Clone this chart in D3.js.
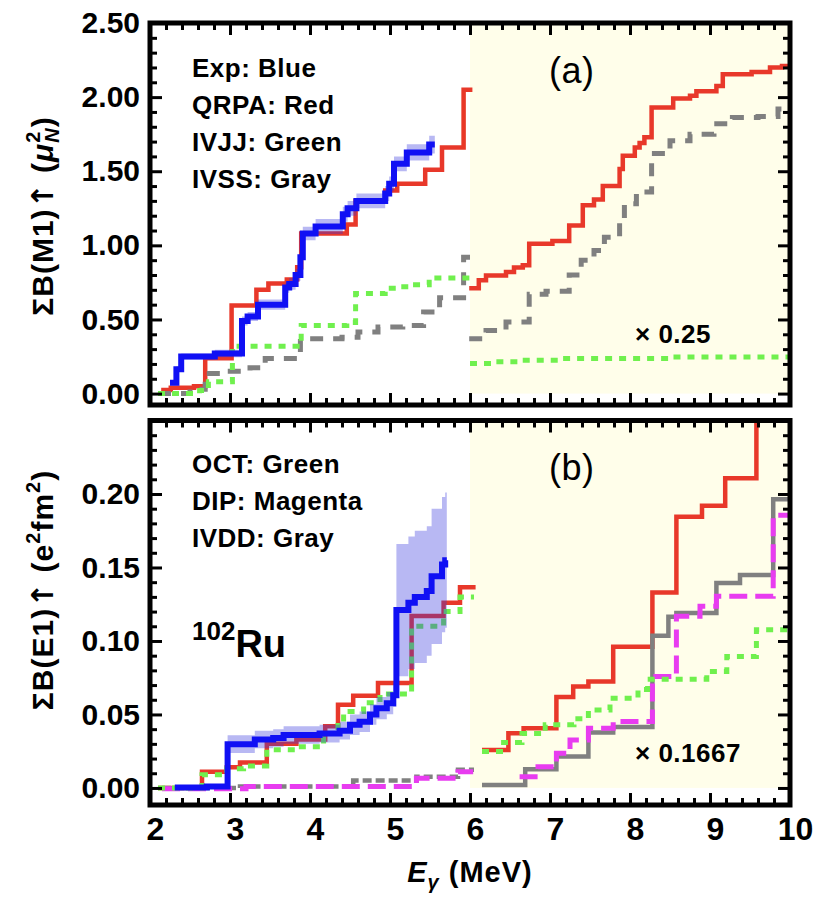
<!DOCTYPE html>
<html>
<head>
<meta charset="utf-8">
<script src="https://cdn.jsdelivr.net/npm/d3@7"></script>
<style>
body { margin: 0; background: #fff; }
text { font-family: "Liberation Sans", Arial, sans-serif; white-space: pre; }
</style>
</head>
<body>
<div id="chart"></div>
<script>
// ---- tick values / labels ----
var xMajor = [2, 3, 4, 5, 6, 7, 8, 9, 10];
var xLabels = ["2", "3", "4", "5", "6", "7", "8", "9", "10"];
var yMajorA = [0, 0.5, 1, 1.5, 2, 2.5];
var yLabelsA = ["0.00", "0.50", "1.00", "1.50", "2.00", "2.50"];
var yMajorB = [0, 0.05, 0.1, 0.15, 0.2];
var yLabelsB = ["0.00", "0.05", "0.10", "0.15", "0.20"];

// ---- panel (a): M1 ----
var expE_a = [2.25, 2.33, 2.39, 2.81, 3.15, 3.22, 3.35, 3.69, 3.74, 3.82, 3.88, 3.91, 4.07, 4.41, 4.47, 4.58, 4.94, 4.99, 5.05, 5.21, 5.49, 5.56];
var expV_a = [0.073, 0.165, 0.25, 0.27, 0.49, 0.52, 0.60, 0.715, 0.74, 0.80, 0.92, 1.08, 1.127, 1.21, 1.25, 1.30, 1.35, 1.415, 1.55, 1.627, 1.68, 1.68];
var expErr_a = [0.015, 0.02, 0.02, 0.025, 0.03, 0.03, 0.035, 0.035, 0.04, 0.04, 0.045, 0.045, 0.05, 0.05, 0.05, 0.05, 0.05, 0.05, 0.05, 0.055, 0.06, 0.06];

var qrpaE_a1 = [2.14, 2.26, 2.55, 2.69, 3.02, 3.33, 3.48, 3.71, 3.84, 3.89, 4.46, 4.57, 4.94, 5.09, 5.44, 5.65, 5.92, 6.03];
var qrpaV_a1 = [0.024, 0.04, 0.05, 0.238, 0.595, 0.70, 0.742, 0.77, 0.853, 1.08, 1.14, 1.30, 1.37, 1.415, 1.51, 1.66, 2.05, 2.05];
var qrpaE_a2 = [5.99, 6.11, 6.2, 6.45, 6.55, 6.66, 6.74, 7.03, 7.24, 7.41, 7.55, 7.66, 7.87, 7.91, 8.06, 8.12, 8.18, 8.27, 8.54, 8.75, 8.83, 9.08, 9.16, 9.52, 9.75, 9.9, 10];
var qrpaV_a2 = [0.71, 0.764, 0.797, 0.82, 0.85, 0.865, 1.01, 1.03, 1.134, 1.27, 1.31, 1.40, 1.515, 1.605, 1.66, 1.69, 1.73, 1.93, 1.99, 2.01, 2.04, 2.075, 2.155, 2.17, 2.20, 2.21, 2.21];

var ivssE_a1 = [2.1, 2.5, 2.69, 2.9, 3.25, 3.44, 3.88, 4.4, 4.6, 4.85, 5.16, 5.42, 5.62, 5.92, 6.0];
var ivssV_a1 = [0.0, 0.03, 0.136, 0.15, 0.174, 0.237, 0.37, 0.38, 0.416, 0.45, 0.46, 0.55, 0.647, 0.92, 0.92];
var ivssE_a2 = [5.99, 6.2, 6.45, 6.74, 6.95, 7.24, 7.39, 7.55, 7.68, 7.87, 7.93, 8.08, 8.27, 8.5, 8.75, 9.05, 9.28, 9.6, 9.85, 10];
var ivssV_a2 = [0.37, 0.425, 0.483, 0.67, 0.69, 0.80, 0.90, 0.965, 1.055, 1.156, 1.28, 1.36, 1.62, 1.706, 1.75, 1.82, 1.863, 1.87, 1.92, 1.92];

var ivjjE_a1 = [2.1, 2.62, 2.73, 3.03, 3.89, 4.46, 4.57, 4.94, 5.1, 5.25, 5.49, 6.0];
var ivjjV_a1 = [0.0, 0.02, 0.08, 0.32, 0.46, 0.48, 0.675, 0.71, 0.72, 0.735, 0.78, 0.78];
var ivjjE_a2 = [6.0, 6.3, 6.6, 7.1, 8.5, 10];
var ivjjV_a2 = [0.203, 0.214, 0.225, 0.236, 0.247, 0.25];

// ---- panel (b): E1 ----
var expE_b = [2.31, 2.71, 2.97, 3.31, 3.54, 3.67, 4.12, 4.37, 4.5, 4.62, 4.75, 4.83, 4.96, 5.04, 5.08, 5.23, 5.31, 5.46, 5.52, 5.65, 5.69, 5.71];
var expV_b = [0.0003, 0.001, 0.0298, 0.033, 0.034, 0.036, 0.037, 0.039, 0.043, 0.045, 0.050, 0.0543, 0.0577, 0.063, 0.121, 0.126, 0.13, 0.134, 0.144, 0.152, 0.155, 0.155];
var expErr_b = [0.001, 0.001, 0.006, 0.006, 0.006, 0.006, 0.006, 0.006, 0.007, 0.007, 0.007, 0.0075, 0.0075, 0.008, 0.045, 0.045, 0.045, 0.044, 0.046, 0.046, 0.046, 0.046];

var qrpaE_b1 = [2.1, 2.65, 2.96, 3.125, 3.46, 3.83, 4.19, 4.35, 4.54, 4.85, 5.27, 5.67, 5.875, 6.07];
var qrpaV_b1 = [0.0, 0.011, 0.014, 0.0173, 0.030, 0.033, 0.042, 0.0566, 0.0627, 0.0714, 0.117, 0.126, 0.1366, 0.1366];
var qrpaE_b2 = [6.15, 6.48, 6.67, 7.08, 7.29, 7.48, 7.79, 8.28, 8.58, 8.9, 9.19, 9.58, 10];
var qrpaV_b2 = [0.0259, 0.0373, 0.0407, 0.0618, 0.069, 0.0725, 0.096, 0.133, 0.1846, 0.192, 0.2107, 0.26, 0.26];

var ivddE_b1 = [2.15, 3.125, 4.54, 5.33, 5.85, 6.05];
var ivddV_b1 = [0.0, 0.001, 0.005, 0.0077, 0.0123, 0.0123];
var ivddE_b2 = [6.15, 6.69, 7.08, 7.48, 7.79, 8.28, 8.48, 8.58, 9.08, 9.375, 9.79, 10];
var ivddV_b2 = [0.002, 0.0128, 0.0214, 0.0377, 0.0414, 0.1036, 0.1164, 0.119, 0.1395, 0.1448, 0.1964, 0.1964];

var dipE_b1 = [2.15, 3.2, 5.33, 5.85, 6.04];
var dipV_b1 = [-0.0005, 0.001, 0.0066, 0.011, 0.011];
var dipE_b2 = [6.62, 6.85, 7.08, 7.25, 7.48, 7.79, 8.28, 8.58, 8.875, 9.08, 9.79, 10];
var dipV_b2 = [0.0077, 0.0145, 0.0236, 0.0327, 0.0407, 0.0452, 0.0759, 0.1168, 0.1236, 0.1304, 0.1855, 0.1855];

var octE_b1 = [2.1, 2.65, 2.96, 3.17, 3.46, 3.83, 4.17, 4.35, 4.42, 4.67, 4.875, 5.27, 5.67, 5.875, 6.05];
var octV_b1 = [0.0, 0.0089, 0.013, 0.015, 0.026, 0.028, 0.037, 0.045, 0.052, 0.058, 0.064, 0.110, 0.120, 0.130, 0.130];
var octE_b2 = [6.15, 6.42, 6.65, 6.94, 7.3, 7.48, 7.75, 8.1, 8.22, 8.96, 9.21, 9.58, 10];
var octV_b2 = [0.0248, 0.0309, 0.037, 0.043, 0.047, 0.053, 0.0611, 0.067, 0.074, 0.0793, 0.0895, 0.1077, 0.1077];

var BLUE = "#1010f4", RED = "#e8382a", GREEN = "#70f04e", GRAY = "#808080", MAGENTA = "#e83cf0";

var svg = d3.select("#chart").append("svg").attr("width", 820).attr("height", 914);

var x = d3.scaleLinear().domain([2, 10]).range([150, 790]);
var yA = d3.scaleLinear().domain([-0.077, 2.5]).range([405, 23]);
var yB = d3.scaleLinear().domain([-0.0116, 0.25]).range([805, 420.5]);

function zip(E, V, R) {
	return E.map(function(e, i) { return [e, V[i], R ? R[i] : 0]; });
}

function panel(id, y, top, bottom) {
	svg.append("clipPath").attr("id", id)
		.append("rect").attr("x", 150).attr("y", top).attr("width", 640).attr("height", bottom - top);
	var g = svg.append("g").attr("clip-path", "url(#" + id + ")");
	var yTop = y.domain()[1];
	// shaded region above 6 MeV
	g.append("rect")
		.attr("x", x(6)).attr("width", x(10) - x(6))
		.attr("y", y(yTop)).attr("height", y(0) - y(yTop))
		.attr("fill", "#fffeea");
	return g;
}

function step(g, y, E, V, color, w, dash) {
	var line = d3.line()
		.x(function(d) { return x(d[0]); })
		.y(function(d) { return y(d[1]); })
		.curve(d3.curveStepAfter);
	g.append("path").datum(zip(E, V))
		.attr("d", line)
		.attr("fill", "none")
		.attr("stroke", color)
		.attr("stroke-width", w)
		.attr("stroke-dasharray", dash || null);
}

function band(g, y, E, V, R) {
	var area = d3.area()
		.x(function(d) { return x(d[0]); })
		.y0(function(d) { return y(d[1] - d[2]); })
		.y1(function(d) { return y(d[1] + d[2]); })
		.curve(d3.curveStepAfter);
	g.append("path").datum(zip(E, V, R))
		.attr("d", area)
		.attr("fill", "#3333dd")
		.attr("fill-opacity", 0.35);
}

function frame(y, top, bottom, yMajor, yLabels, yMinorStep) {
	var axes = svg.append("g");
	var xMinor = d3.range(2, 10.001, 0.2).filter(function(v) { return Math.abs(v - Math.round(v)) > 0.01; });
	var yMax = y.domain()[1];
	var yMinor = d3.range(0, yMax + yMinorStep / 2, yMinorStep).filter(function(v) {
		return yMajor.every(function(m) { return Math.abs(m - v) > yMinorStep / 10; });
	});

	[[d3.axisBottom, bottom], [d3.axisTop, top]].forEach(function(a) {
		axes.append("g").attr("transform", "translate(0," + a[1] + ")")
			.call(a[0](x).tickValues(xMajor).tickSize(-12).tickFormat(""));
		axes.append("g").attr("transform", "translate(0," + a[1] + ")")
			.call(a[0](x).tickValues(xMinor).tickSize(-7).tickFormat(""));
	});
	[[d3.axisLeft, 150], [d3.axisRight, 790]].forEach(function(a) {
		axes.append("g").attr("transform", "translate(" + a[1] + ",0)")
			.call(a[0](y).tickValues(yMajor).tickSize(-12).tickFormat(""));
		axes.append("g").attr("transform", "translate(" + a[1] + ",0)")
			.call(a[0](y).tickValues(yMinor).tickSize(-7).tickFormat(""));
	});
	axes.selectAll(".domain").remove();
	axes.selectAll(".tick line").attr("stroke", "#000").attr("stroke-width", 3);

	// y tick labels
	var lab = svg.append("g").attr("transform", "translate(150,0)")
		.call(d3.axisLeft(y).tickValues(yMajor).tickSize(0).tickPadding(10)
			.tickFormat(function(d, i) { return yLabels[i]; }));
	lab.select(".domain").remove();
	lab.selectAll("text")
		.attr("font-size", 30).attr("font-weight", "bold")
		.attr("font-family", "Liberation Sans, Arial, sans-serif")
		.attr("fill", "#000");

	svg.append("rect")
		.attr("x", 150).attr("y", top).attr("width", 640).attr("height", bottom - top)
		.attr("fill", "none").attr("stroke", "#000").attr("stroke-width", 5);
}

// ---- panel (a) ----
var gA = panel("clipA", yA, 23, 405);
step(gA, yA, qrpaE_a1, qrpaV_a1, RED, 4.5);
step(gA, yA, qrpaE_a2, qrpaV_a2, RED, 4.5);
step(gA, yA, ivssE_a1, ivssV_a1, GRAY, 5, "13,10");
step(gA, yA, ivssE_a2, ivssV_a2, GRAY, 5, "13,10");
step(gA, yA, ivjjE_a1, ivjjV_a1, GREEN, 5, "7,7");
step(gA, yA, ivjjE_a2, ivjjV_a2, GREEN, 5, "7,7");
band(gA, yA, expE_a, expV_a, expErr_a);
step(gA, yA, expE_a, expV_a, BLUE, 6);
frame(yA, 23, 405, yMajorA, yLabelsA, 0.1);

// ---- panel (b) ----
var gB = panel("clipB", yB, 420.5, 805);
step(gB, yB, qrpaE_b1, qrpaV_b1, RED, 4.5);
step(gB, yB, qrpaE_b2, qrpaV_b2, RED, 4.5);
step(gB, yB, ivddE_b1, ivddV_b1, GRAY, 4.5, "9,4");
step(gB, yB, ivddE_b2, ivddV_b2, GRAY, 4.5);
step(gB, yB, dipE_b1, dipV_b1, MAGENTA, 5, "18,8");
step(gB, yB, dipE_b2, dipV_b2, MAGENTA, 5, "18,8");
step(gB, yB, octE_b1, octV_b1, GREEN, 5, "7,7");
step(gB, yB, octE_b2, octV_b2, GREEN, 5, "7,7");
band(gB, yB, expE_b, expV_b, expErr_b);
step(gB, yB, expE_b, expV_b, BLUE, 6);
frame(yB, 420.5, 805, yMajorB, yLabelsB, 0.01);

// x tick labels
var xl = svg.append("g").attr("transform", "translate(0,805)")
	.call(d3.axisBottom(x).tickValues(xMajor).tickSize(0).tickPadding(12)
		.tickFormat(function(d, i) { return xLabels[i]; }));
xl.select(".domain").remove();
xl.selectAll("text")
	.attr("font-size", 32).attr("font-weight", "bold").attr("dx", 5)
	.attr("font-family", "Liberation Sans, Arial, sans-serif").attr("fill", "#000");

// ---- texts ----
function label(txt, px, py, size, weight) {
	return svg.append("text").attr("x", px).attr("y", py)
		.attr("font-size", size).attr("font-weight", weight || "bold")
		.attr("letter-spacing", 0.5).text(txt);
}
label("Exp: Blue", 192, 77, 26);
label("QRPA: Red", 192, 114, 26);
label("IVJJ: Green", 192, 151, 26);
label("IVSS: Gray", 192, 188, 26);
label("OCT: Green", 192, 473, 26);
label("DIP: Magenta", 192, 510, 26);
label("IVDD: Gray", 192, 547, 26);
label("(a)", 549, 83, 36, "normal");
label("(b)", 549, 480, 36, "normal");
label("\u00d7 0.25", 635, 343, 26);
label("\u00d7 0.1667", 635, 762, 26);

var ru = svg.append("text").attr("x", 192).attr("y", 657).attr("font-weight", "bold");
ru.append("tspan").attr("font-size", 26).attr("dy", -17).text("102");
ru.append("tspan").attr("font-size", 38).attr("dy", 17).text("Ru");

// y axis titles
var ta = svg.append("text").attr("transform", "translate(53,216) rotate(-90)")
	.attr("text-anchor", "middle").attr("font-size", 30).attr("font-weight", "bold").attr("letter-spacing", 1);
ta.append("tspan").text("\u03a3B(M1)");
ta.append("tspan").attr("font-family", "DejaVu Sans").text("\u2191");
ta.append("tspan").text(" (");
ta.append("tspan").attr("font-style", "italic").text("\u03bc");
ta.append("tspan").attr("font-size", 20).attr("dy", -13).text("2");
ta.append("tspan").attr("font-size", 20).attr("font-style", "italic").attr("dx", -12).attr("dy", 19).text("N");
ta.append("tspan").attr("dy", -6).text(")");

var tb = svg.append("text").attr("transform", "translate(53,590) rotate(-90)")
	.attr("text-anchor", "middle").attr("font-size", 30).attr("font-weight", "bold").attr("letter-spacing", 1);
tb.append("tspan").text("\u03a3B(E1)");
tb.append("tspan").attr("font-family", "DejaVu Sans").text("\u2191");
tb.append("tspan").text(" (e");
tb.append("tspan").attr("font-size", 20).attr("dy", -13).text("2");
tb.append("tspan").attr("dy", 13).text("fm");
tb.append("tspan").attr("font-size", 20).attr("dy", -13).text("2");
tb.append("tspan").attr("dy", 13).text(")");

// x axis title
var tx = svg.append("text").attr("x", 470).attr("y", 882)
	.attr("text-anchor", "middle").attr("font-size", 29).attr("font-weight", "bold").attr("letter-spacing", 1);
tx.append("tspan").attr("font-style", "italic").text("E");
tx.append("tspan").attr("font-style", "italic").attr("font-size", 20).attr("dy", 7).text("\u03b3");
tx.append("tspan").attr("dy", -7).text(" (MeV)");
</script>
</body>
</html>
